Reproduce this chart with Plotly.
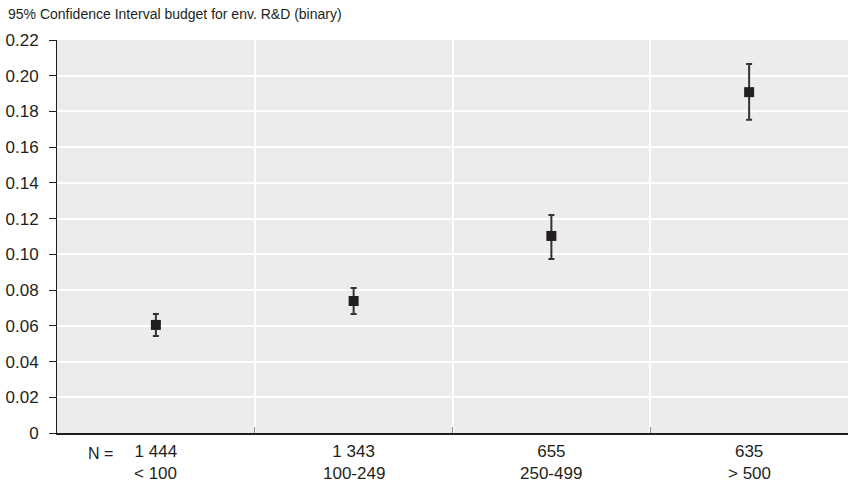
import plotly.graph_objects as go

categories = ["< 100", "100-249", "250-499", "> 500"]
n_labels = ["1 444", "1 343", "655", "635"]
values = [0.0605, 0.0739, 0.1103, 0.1908]
upper = [0.0666, 0.0812, 0.1220, 0.2066]
lower = [0.0543, 0.0666, 0.0974, 0.1753]
title_text = "95% Confidence Interval budget for env. R&D (binary)"
y_ticks = [0, 0.02, 0.04, 0.06, 0.08, 0.10, 0.12, 0.14, 0.16, 0.18, 0.20, 0.22]
y_ticklabels = ["0", "0.02", "0.04", "0.06", "0.08", "0.10", "0.12", "0.14",
                "0.16", "0.18", "0.20", "0.22"]

xpos = [i + 0.5 for i in range(len(categories))]
err_plus = [u - v for u, v in zip(upper, values)]
err_minus = [v - l for v, l in zip(values, lower)]

font_family = "Liberation Sans, Arial, sans-serif"
ink = "#231f20"
tick_size = 17

W, H = 848, 489
L, R, T, B = 57, 0, 40, 56
pw, ph = W - L - R, H - T - B

fig = go.Figure()
fig.add_trace(go.Scatter(
    x=xpos, y=values, mode="markers",
    marker=dict(symbol="square", size=10, color=ink),
    error_y=dict(type="data", symmetric=False, array=err_plus, arrayminus=err_minus,
                 color="#333333", thickness=2, width=3),
    showlegend=False, hoverinfo="skip",
))

annotations = [
    dict(text=title_text, xref="paper", yref="paper", x=(6 - L) / pw, y=1 + (T - 14) / ph,
         xanchor="left", yanchor="middle", showarrow=False, font=dict(size=14, color=ink)),
    dict(text="N =", xref="paper", yref="paper", x=(100 - L) / pw, y=-(453 - (T + ph)) / ph,
         xanchor="center", yanchor="middle", showarrow=False, font=dict(size=tick_size - 1, color=ink)),
]
for xp, c in zip(xpos, categories):
    annotations.append(dict(text=c, xref="x", yref="paper", x=xp, y=-(473 - (T + ph)) / ph,
                            xanchor="center", yanchor="middle", showarrow=False,
                            font=dict(size=tick_size, color=ink)))

fig.update_layout(
    width=W, height=H,
    margin=dict(l=L, r=R, t=T, b=B, autoexpand=False),
    paper_bgcolor="white", plot_bgcolor="#ececec",
    font=dict(family=font_family, size=tick_size, color=ink),
    xaxis=dict(
        range=[0, 4], tickmode="array", tickvals=xpos, ticktext=n_labels,
        showgrid=False, zeroline=False, ticks="", ticklabelstandoff=2,
        showline=True, linecolor=ink, linewidth=2,
        minor=dict(tickmode="array", tickvals=[1, 2, 3], showgrid=True,
                   gridcolor="white", gridwidth=1.5, ticks="inside",
                   ticklen=6, tickcolor="#888888", tickwidth=1),
        tickfont=dict(size=tick_size, color=ink),
    ),
    yaxis=dict(
        range=[0, 0.22], tickmode="array", tickvals=y_ticks, ticktext=y_ticklabels,
        showgrid=True, gridcolor="white", gridwidth=1.5, zeroline=False,
        showline=True, linecolor=ink, linewidth=1,
        ticks="outside", ticklen=7, tickcolor=ink, ticklabelstandoff=7,
        tickfont=dict(size=tick_size, color=ink),
    ),
    annotations=annotations,
)

fig.write_html("out.html", config={"displayModeBar": False},
               post_script="document.body.style.margin='0';")
